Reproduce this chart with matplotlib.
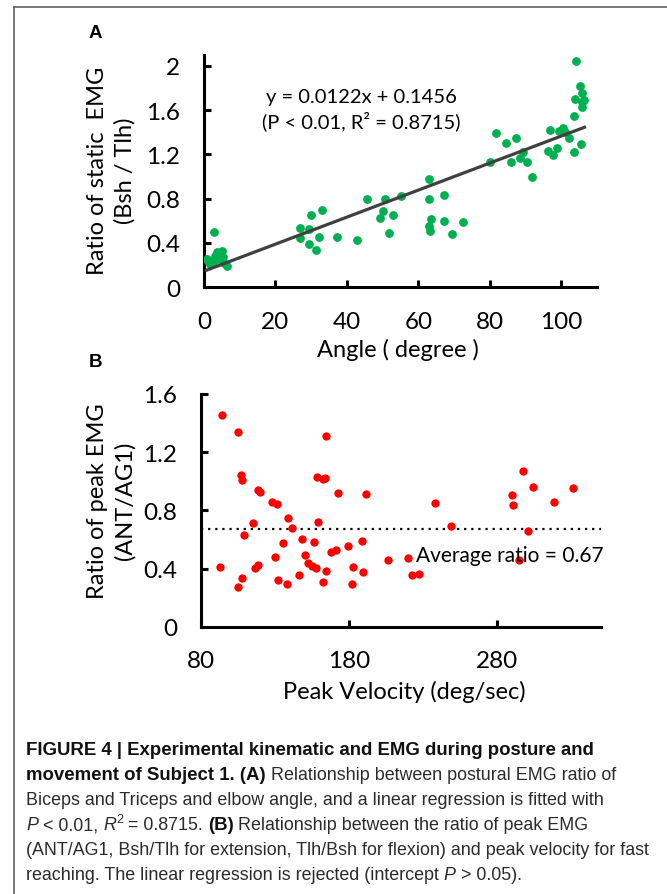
import numpy as np
import matplotlib
matplotlib.use('Agg')
import matplotlib.pyplot as plt
from matplotlib import font_manager
from matplotlib.lines import Line2D

# panel A: elbow angle vs static EMG ratio
angle = [0.7, 1.6, 2.8, 3.5, 4.9, 3.9, 5.3, 6.5, 2.6, 4.3, 5.7, 1.0, 3.0,
         26.8, 26.8, 29.4, 30.0, 29.4, 31.4, 32.2, 33.1, 37.3, 42.9, 45.7,
         49.2, 50.1, 50.8, 51.9, 52.9, 55.0,
         62.9, 62.9, 67.3, 63.4, 62.9, 63.3, 67.3, 69.5, 72.6,
         80.0, 81.8, 84.4, 87.2, 86.0, 88.5, 89.2, 90.3, 91.7, 96.9, 96.4,
         97.8, 98.7, 99.3, 100.4, 101.1, 102.1, 103.7, 105.6, 103.6, 103.9,
         105.8, 106.5, 105.8, 105.3, 105.7, 104.2]
static_ratio = [0.26, 0.21, 0.50, 0.32, 0.33, 0.26, 0.27, 0.19, 0.23, 0.30, 0.22, 0.24, 0.28,
                0.535, 0.445, 0.526, 0.653, 0.39, 0.34, 0.45, 0.70, 0.45, 0.43, 0.80,
                0.63, 0.69, 0.80, 0.49, 0.65, 0.82,
                0.98, 0.80, 0.83, 0.62, 0.55, 0.51, 0.60, 0.48, 0.59,
                1.13, 1.39, 1.30, 1.345, 1.13, 1.17, 1.22, 1.13, 1.00, 1.42, 1.23,
                1.19, 1.255, 1.41, 1.435, 1.40, 1.345, 1.22, 1.29, 1.55, 1.70,
                1.675, 1.69, 1.63, 1.815, 1.755, 2.04]
slope, intercept = 0.0122, 0.1456

# panel B: peak velocity vs peak EMG ratio
velocity = [94.2, 105.4, 164.5, 107.2, 108.1, 158.2, 162.3, 163.8, 118.4, 120.2,
            172.8, 191.5, 128.3, 131.2, 139.1, 158.9, 115.5, 141.6, 109.4, 148.5,
            156.6, 135.7, 179.1, 188.6, 167.7, 171.2, 150.3, 130.3, 152.6, 154.8,
            157.7, 118.8, 116.6, 93.0, 182.9, 164.5, 189.6, 108.1, 131.9, 146.3,
            104.9, 138.4, 162.7, 181.8, 206.1, 220.0, 222.7, 227.2, 238.0, 249.0,
            297.5, 304.3, 290.1, 290.4, 318.2, 331.0, 300.5, 294.6]
peak_ratio = [1.457, 1.336, 1.313, 1.043, 1.01, 1.03, 1.015, 1.02, 0.94, 0.924,
              0.917, 0.914, 0.86, 0.846, 0.747, 0.722, 0.715, 0.676, 0.632, 0.603,
              0.584, 0.573, 0.557, 0.589, 0.516, 0.527, 0.495, 0.481, 0.438, 0.419,
              0.401, 0.426, 0.401, 0.408, 0.412, 0.383, 0.378, 0.337, 0.323, 0.355,
              0.273, 0.296, 0.305, 0.293, 0.458, 0.472, 0.357, 0.364, 0.85, 0.694,
              1.07, 0.962, 0.905, 0.84, 0.855, 0.953, 0.66, 0.46]
avg_ratio = 0.67

W, H = 667, 895
CHART_FONT = 'Lato'
names = {f.name for f in font_manager.fontManager.ttflist}
CAP_FONT = 'Liberation Sans Narrow' if 'Liberation Sans Narrow' in names else 'Liberation Sans'
TICK_SIZE = 17.5
LABEL_SIZE = 17


def fx(px):
    return px / W


def fy(py):
    return 1 - py / H


fig = plt.figure(figsize=(W / 100, H / 100), dpi=100)
plt.rcParams['font.family'] = CHART_FONT


def style_axes(ax):
    for s in ['top', 'right']:
        ax.spines[s].set_visible(False)
    for s in ['left', 'bottom']:
        ax.spines[s].set_linewidth(2.2)
        ax.spines[s].set_color('black')
    ax.tick_params(direction='in', length=5, width=2.2, labelsize=TICK_SIZE, pad=17)


# ---------------- panel A ----------------
axA = fig.add_axes([fx(204), fy(288.3), fx(597) - fx(204), (288.3 - 55.7) / H])
axA.scatter(angle, static_ratio, s=40, color='#00B050', zorder=3, linewidths=0)
xs = np.array([min(angle), max(angle)])
axA.plot(xs, slope * xs + intercept, color='#404040', lw=2.3, zorder=4)
axA.set_xlim(0, 110)
axA.set_ylim(0, 2.1)
axA.set_xticks([0, 20, 40, 60, 80, 100])
axA.set_yticks([0, 0.4, 0.8, 1.2, 1.6, 2])
axA.set_yticklabels(['0', '0.4', '0.8', '1.2', '1.6', '2'])
style_axes(axA)
fig.text(fx(361), fy(98), 'y = 0.0122x + 0.1456', ha='center', va='center', fontsize=14.5)
fig.text(fx(361), fy(121), '(P < 0.01, R² = 0.8715)', ha='center', va='center', fontsize=14.5)
fig.text(fx(111), fy(171), 'Ratio of static  EMG\n(Bsh / Tlh)', rotation=90,
         ha='center', va='center', multialignment='center', fontsize=LABEL_SIZE, linespacing=1.35)
fig.text(fx(398), fy(350), 'Angle ( degree )', ha='center', va='center', fontsize=LABEL_SIZE)
fig.text(fx(95), fy(34), 'A', ha='center', va='center', fontsize=13.5, fontweight='bold',
         family='Liberation Sans')

# ---------------- panel B ----------------
axB = fig.add_axes([fx(200.7), fy(627.7), fx(601) - fx(200.7), (627.7 - 395) / H])
axB.scatter(velocity, peak_ratio, s=36, color='#FF0000', zorder=3, linewidths=0)
axB.axhline(avg_ratio, color='black', lw=1.6, ls=(0, (1, 2.2)), zorder=2)
axB.set_xlim(80, 350)
axB.set_ylim(0, 1.6)
axB.set_xticks([80, 180, 280])
axB.set_yticks([0, 0.4, 0.8, 1.2, 1.6])
axB.set_yticklabels(['0', '0.4', '0.8', '1.2', '1.6'])
style_axes(axB)
axB.text(225.5, 0.495, 'Average ratio = ' + str(avg_ratio), ha='left', va='center', fontsize=15)
fig.text(fx(111), fy(501), 'Ratio of peak EMG\n(ANT/AG1)', rotation=90,
         ha='center', va='center', multialignment='center', fontsize=LABEL_SIZE, linespacing=1.35)
fig.text(fx(404), fy(692), 'Peak Velocity (deg/sec)', ha='center', va='center', fontsize=LABEL_SIZE)
fig.text(fx(95), fy(363), 'B', ha='center', va='center', fontsize=13.5, fontweight='bold',
         family='Liberation Sans')

# frame (top and left edge)
fig.add_artist(Line2D([fx(14), 1], [fy(8), fy(8)], color='#555555', lw=1.1))
fig.add_artist(Line2D([fx(14), fx(14)], [fy(8), 0], color='#555555', lw=1.1))

# ---------------- caption ----------------
caption = [
    [('FIGURE 4 | Experimental kinematic and EMG during posture and', 'b')],
    [('movement of Subject 1. (A)', 'b'), (' Relationship between postural EMG ratio of', 'r')],
    [('Biceps and Triceps and elbow angle, and a linear regression is fitted with', 'r')],
    [('P', 'i'), (' < 0.01, ', 'r'), ('R', 'i'), ('2', 's'), (' = 0.8715. ', 'r'), ('(B)', 'b'),
     (' Relationship between the ratio of peak EMG', 'r')],
    [('(ANT/AG1, Bsh/Tlh for extension, Tlh/Bsh for flexion) and peak velocity for fast', 'r')],
    [('reaching. The linear regression is rejected (intercept ', 'r'), ('P', 'i'), (' > 0.05).', 'r')],
]
cap_size = 12.9
bold_size = 13.4
cap_color = '#2B2B2B'
renderer = fig.canvas.get_renderer()


def text_width(s, **kw):
    t = fig.text(0, 0, s, **kw)
    w = t.get_window_extent(renderer).width
    t.remove()
    return w


def style_kw(st):
    kw = dict(family=CAP_FONT, fontsize=cap_size, color=cap_color)
    if st == 'b':
        kw['fontweight'] = 'bold'
        kw['fontsize'] = bold_size
        kw['color'] = '#111111'
    elif st == 'i':
        kw['style'] = 'italic'
    elif st == 's':
        kw['fontsize'] = cap_size * 0.7
    return kw


line_y = [751, 776, 801, 826, 851, 876]
for segs, py in zip(caption, line_y):
    x = 26.0
    for txt, st in segs:
        kw = style_kw(st)
        sp = text_width('x x', **kw) - text_width('xx', **kw)
        lead = len(txt) - len(txt.lstrip(' '))
        trail = len(txt) - len(txt.rstrip(' '))
        core = txt.strip(' ')
        x += lead * sp
        yy = py - 6 if st == 's' else py
        t = fig.text(fx(x), fy(yy), core, ha='left', va='center', **kw)
        x += t.get_window_extent(renderer).width + trail * sp

fig.savefig('out.png', dpi=100)
